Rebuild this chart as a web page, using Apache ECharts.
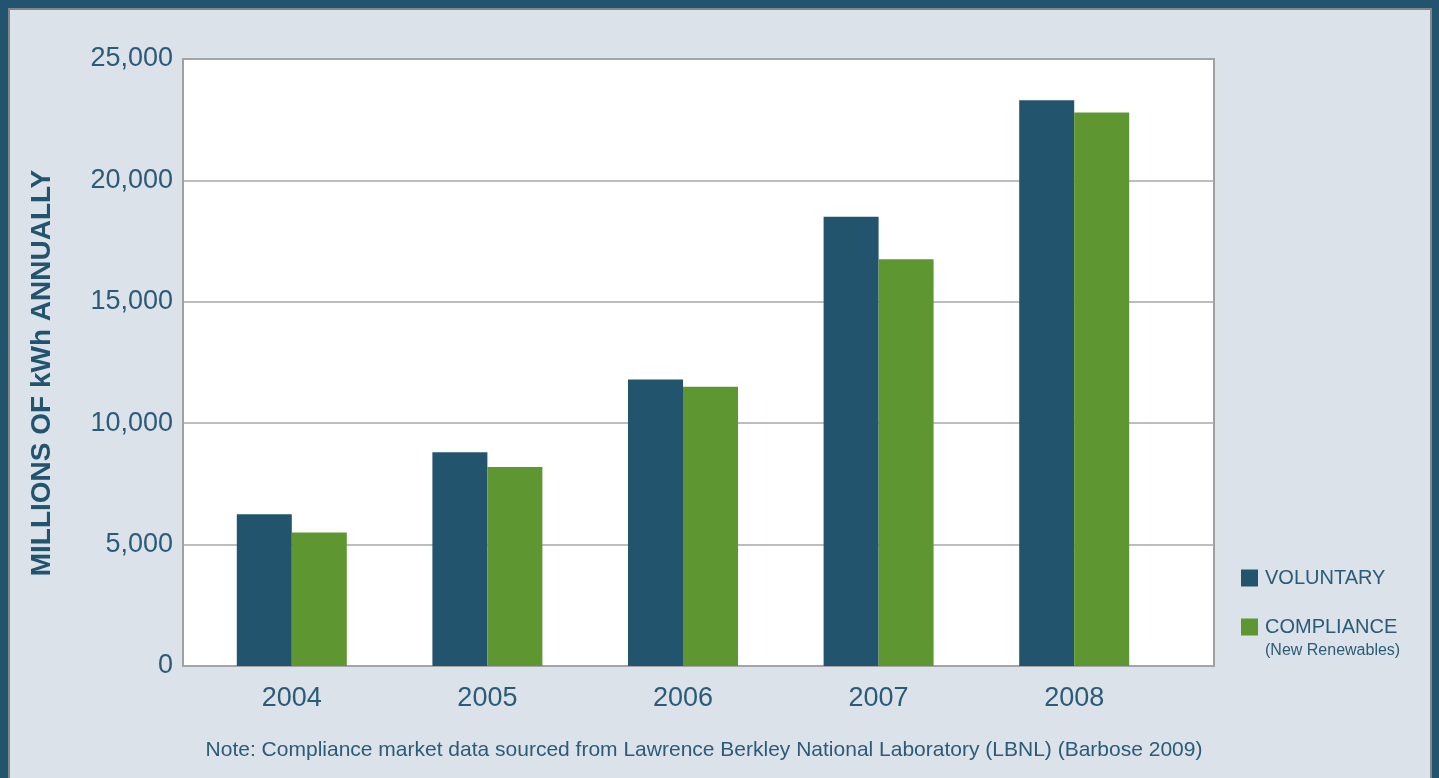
<!DOCTYPE html>
<html>
<head>
<meta charset="utf-8">
<script src="https://cdn.jsdelivr.net/npm/echarts@6/dist/echarts.min.js"></script>
<style>
html,body{margin:0;padding:0;background:#22546e;width:1439px;height:778px;overflow:hidden;}
#panel{position:absolute;left:8px;top:8px;width:1424px;height:790px;background:#dbe2e9;border:2px solid #7f868c;box-sizing:border-box;}
#chart{position:absolute;left:0;top:0;width:1439px;height:778px;}
</style>
</head>
<body>
<div id="panel"></div>
<div id="chart"></div>
<script>
const years = ['2004', '2005', '2006', '2007', '2008'];
const voluntary = [6250, 8800, 11800, 18500, 23300];
const compliance = [5500, 8200, 11500, 16750, 22800];
const seriesNames = ['VOLUNTARY', 'COMPLIANCE'];
const yTicks = { min: 0, max: 25000, interval: 5000 };
const yTitle = 'MILLIONS OF kWh ANNUALLY';
const legendSub = '(New Renewables)';
const note = 'Note: Compliance market data sourced from Lawrence Berkley National Laboratory (LBNL) (Barbose 2009)';

const FONT = 'Liberation Sans, Arial, sans-serif';
const TXT = '#2b5b77';
const chart = echarts.init(document.getElementById('chart'), null, { renderer: 'canvas' });

chart.setOption({
  backgroundColor: 'transparent',
  animation: false,
  grid: [
    { left: 183, right: 225, top: 59, bottom: 112, show: true, backgroundColor: '#ffffff', borderColor: '#9ea1a4', borderWidth: 2 },
    { left: 194, right: 267, top: 59, bottom: 112 }
  ],
  xAxis: [
    { gridIndex: 0, type: 'category', data: years, show: false },
    { gridIndex: 1, type: 'category', data: years,
      axisLine: { show: false }, axisTick: { show: false },
      axisLabel: { color: TXT, fontFamily: FONT, fontSize: 27, margin: 19 } }
  ],
  yAxis: [
    { gridIndex: 0, type: 'value', min: yTicks.min, max: yTicks.max, interval: yTicks.interval,
      axisLine: { show: false }, axisTick: { show: false },
      axisLabel: { color: TXT, fontFamily: FONT, fontSize: 27, margin: 10,
        formatter: v => v.toLocaleString('en-US') },
      splitLine: { show: true, lineStyle: { color: '#a4a7aa', width: 1.5 } } },
    { gridIndex: 1, type: 'value', min: yTicks.min, max: yTicks.max, interval: yTicks.interval, show: false,
      splitLine: { show: false } }
  ],
  legend: {
    orient: 'vertical', left: 1236, top: 563,
    itemWidth: 17, itemHeight: 17, itemGap: 29,
    icon: 'rect',
    data: seriesNames,
    textStyle: { color: TXT, fontFamily: FONT, fontSize: 20, padding: [0, 0, 0, 2] }
  },
  graphic: [
    { type: 'text', x: 42, y: 373, rotation: Math.PI / 2,
      style: { text: yTitle, fill: '#22546e', font: 'bold 28px ' + FONT, textAlign: 'center', textVerticalAlign: 'middle' } },
    { type: 'text', x: 1265, y: 651,
      style: { text: legendSub, fill: TXT, font: '16px ' + FONT, textAlign: 'left', textVerticalAlign: 'middle' } },
    { type: 'text', x: 704, y: 750,
      style: { text: note, fill: TXT, font: '21px ' + FONT, textAlign: 'center', textVerticalAlign: 'middle' } }
  ],
  series: [
    { name: seriesNames[0], type: 'bar', xAxisIndex: 1, yAxisIndex: 1, data: voluntary,
      barWidth: 55, barGap: '0%', itemStyle: { color: '#22546e' } },
    { name: seriesNames[1], type: 'bar', xAxisIndex: 1, yAxisIndex: 1, data: compliance,
      barWidth: 55, barGap: '0%', itemStyle: { color: '#5e9732' } }
  ]
});
</script>
</body>
</html>
